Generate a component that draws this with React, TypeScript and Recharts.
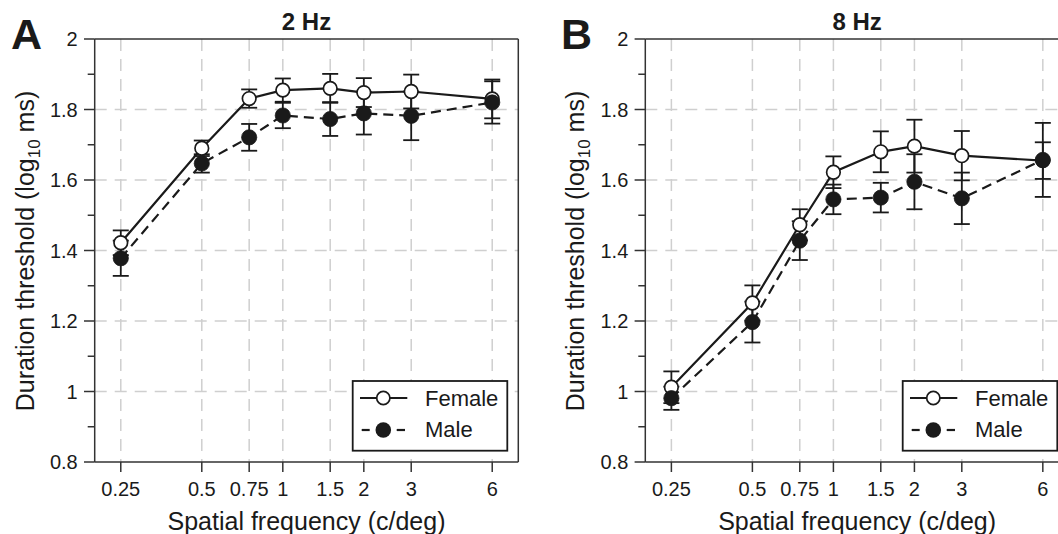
import React from 'react';
import { ComposedChart, Line, XAxis, YAxis, CartesianGrid, ErrorBar, ReferenceLine } from 'recharts';

// ---- data ----
const spatialFreq = [0.25, 0.5, 0.75, 1, 1.5, 2, 3, 6];
const xTicks = [0.25, 0.5, 0.75, 1, 1.5, 2, 3, 6];
const yTicks = [0.8, 0.9, 1.0, 1.1, 1.2, 1.3, 1.4, 1.5, 1.6, 1.7, 1.8, 1.9, 2.0];
const yGridValues = [1.0, 1.2, 1.4, 1.6, 1.8];

// Panel A: 2 Hz
const femaleA = [1.422, 1.690, 1.831, 1.855, 1.860, 1.848, 1.851, 1.830];
const femaleAErr = [0.035, 0.022, 0.026, 0.033, 0.041, 0.041, 0.048, 0.055];
const maleA = [1.378, 1.647, 1.721, 1.783, 1.773, 1.789, 1.782, 1.820];
const maleAErr = [0.050, 0.026, 0.038, 0.036, 0.048, 0.060, 0.069, 0.060];

// Panel B: 8 Hz
const femaleB = [1.012, 1.251, 1.473, 1.622, 1.680, 1.696, 1.669, 1.655];
const femaleBErr = [0.045, 0.050, 0.044, 0.045, 0.058, 0.075, 0.070, 0.052];
const maleB = [0.981, 1.197, 1.428, 1.545, 1.550, 1.595, 1.548, 1.657];
const maleBErr = [0.033, 0.058, 0.055, 0.042, 0.042, 0.078, 0.073, 0.105];

const FONT = '"Liberation Sans", Arial, Helvetica, sans-serif';
const INK = '#1a1a1a';
const AXIS = '#333';
const GRID = '#cfcfcf';

const buildRows = (f: number[], fe: number[], m: number[], me: number[]) =>
  spatialFreq.map((sf, i) => ({ sf, female: f[i], femaleErr: fe[i], male: m[i], maleErr: me[i] }));

const rowsA = buildRows(femaleA, femaleAErr, maleA, maleAErr);
const rowsB = buildRows(femaleB, femaleBErr, maleB, maleBErr);

const fmtY = (v: number) => {
  const r = Math.round(v * 10) / 10;
  if (Math.abs(r - Math.round(r)) < 1e-9) return String(Math.round(r));
  return r.toFixed(1);
};

const YTick = (props: any) => {
  const { x, y, payload } = props;
  const v = payload.value;
  const major = Math.round(v * 10) % 2 === 0;
  return (
    <g>
      <line x1={x - (major ? 10.7 : 7)} x2={x} y1={y} y2={y} stroke={AXIS} strokeWidth={1.5} />
      {major && (
        <text x={x - 17} y={y} dy="0.355em" textAnchor="end" fontSize={20} fill={INK} fontFamily={FONT}>
          {fmtY(v)}
        </text>
      )}
    </g>
  );
};

type PanelProps = { rows: any[]; width: number; left: number; marginLeft: number; marginRight: number };

const Panel = ({ rows, width, left, marginLeft, marginRight }: PanelProps) => (
  <div style={{ position: 'absolute', left, top: 0 }}>
    <ComposedChart
      width={width}
      height={534}
      data={rows}
      margin={{ top: 39, right: marginRight, bottom: 42, left: marginLeft }}
    >
      <CartesianGrid
        stroke={GRID}
        strokeWidth={1.5}
        strokeDasharray="12 8"
        horizontalValues={yGridValues}
        verticalValues={xTicks}
      />
      <XAxis
        dataKey="sf"
        type="number"
        scale="log"
        domain={[0.2, 7.5]}
        ticks={xTicks}
        interval={0}
        allowDataOverflow
        height={30}
        tickSize={10}
        tickMargin={10}
        axisLine={{ stroke: AXIS, strokeWidth: 1.5 }}
        tickLine={{ stroke: AXIS, strokeWidth: 1.5 }}
        tick={{ fontSize: 20, fill: INK, fontFamily: FONT }}
      />
      <YAxis
        type="number"
        domain={[0.8, 2]}
        ticks={yTicks}
        interval={0}
        allowDataOverflow
        width={60}
        tickSize={0}
        tickMargin={0}
        axisLine={{ stroke: AXIS, strokeWidth: 1.5 }}
        tickLine={false}
        tick={(p: any) => <YTick {...p} />}
      />
      <ReferenceLine y={2} stroke={AXIS} strokeWidth={1.5} ifOverflow="visible" />
      <ReferenceLine x={7.5} stroke={AXIS} strokeWidth={1.5} ifOverflow="visible" />
      <Line
        type="linear"
        dataKey="female"
        stroke={INK}
        strokeWidth={2.2}
        dot={{ r: 6.8, fill: '#fff', stroke: INK, strokeWidth: 1.7 }}
        activeDot={false}
        isAnimationActive={false}
      >
        <ErrorBar dataKey="femaleErr" width={8} stroke={INK} strokeWidth={1.8} direction="y" isAnimationActive={false} />
      </Line>
      <Line
        type="linear"
        dataKey="male"
        stroke={INK}
        strokeWidth={2.2}
        strokeDasharray="10 6"
        dot={{ r: 7.6, fill: INK, stroke: INK, strokeWidth: 0.8, strokeDasharray: 'none' }}
        activeDot={false}
        isAnimationActive={false}
      >
        <ErrorBar
          dataKey="maleErr"
          width={8}
          stroke={INK}
          strokeWidth={1.8}
          strokeDasharray="none"
          direction="y"
          isAnimationActive={false}
        />
      </Line>
    </ComposedChart>
  </div>
);

const LegendBox = ({ x, y }: { x: number; y: number }) => (
  <g>
    <rect x={x} y={y} width={154.6} height={69.7} fill="#fff" stroke={INK} strokeWidth={1.8} />
    <line x1={x + 7.3} x2={x + 54.6} y1={y + 17} y2={y + 17} stroke={INK} strokeWidth={2.2} />
    <circle cx={x + 30.6} cy={y + 17} r={6.6} fill="#fff" stroke={INK} strokeWidth={1.7} />
    <text x={x + 72.3} y={y + 25} fontSize={22} fill={INK} fontFamily={FONT}>Female</text>
    <line x1={x + 9} x2={x + 17} y1={y + 49} y2={y + 49} stroke={INK} strokeWidth={2.2} />
    <line x1={x + 44} x2={x + 52.3} y1={y + 49} y2={y + 49} stroke={INK} strokeWidth={2.2} />
    <circle cx={x + 30.6} cy={y + 49} r={7.8} fill={INK} />
    <text x={x + 72.3} y={y + 55.7} fontSize={22} fill={INK} fontFamily={FONT}>Male</text>
  </g>
);

const YLabel = ({ x, y }: { x: number; y: number }) => (
  <text transform={`translate(${x},${y}) rotate(-90)`} textAnchor="middle" fontSize={25} fill={INK} fontFamily={FONT}>
    Duration threshold (log
    <tspan fontSize={17} dy={6}>10</tspan>
    <tspan dy={-6}> ms)</tspan>
  </text>
);

const Overlay = () => (
  <svg width={1058} height={534} style={{ position: 'absolute', left: 0, top: 0, pointerEvents: 'none' }}>
    <text x={11} y={49.3} fontSize={43} fontWeight="bold" fill={INK} fontFamily={FONT}>A</text>
    <text x={561} y={49.3} fontSize={43} fontWeight="bold" fill={INK} fontFamily={FONT}>B</text>
    <text x={306.5} y={29.7} textAnchor="middle" fontSize={24} fontWeight="bold" fill={INK} fontFamily={FONT}>2 Hz</text>
    <text x={857.1} y={29.7} textAnchor="middle" fontSize={24} fontWeight="bold" fill={INK} fontFamily={FONT}>8 Hz</text>
    <YLabel x={33.5} y={251} />
    <YLabel x={584} y={251} />
    <text x={306.5} y={529.5} textAnchor="middle" fontSize={25} fill={INK} fontFamily={FONT}>Spatial frequency (c/deg)</text>
    <text x={857.1} y={529.5} textAnchor="middle" fontSize={25} fill={INK} fontFamily={FONT}>Spatial frequency (c/deg)</text>
    <LegendBox x={352.7} y={381} />
    <LegendBox x={902.7} y={381} />
  </svg>
);

export default function App() {
  return (
    <div
      style={{
        position: 'absolute',
        left: 0,
        top: 0,
        width: 1058,
        height: 534,
        overflow: 'hidden',
        background: '#fff',
      }}
    >
      <Panel rows={rowsA} width={530} left={0} marginLeft={34.7} marginRight={11.7} />
      <Panel rows={rowsB} width={550} left={528} marginLeft={57.3} marginRight={9.1} />
      <Overlay />
    </div>
  );
}
